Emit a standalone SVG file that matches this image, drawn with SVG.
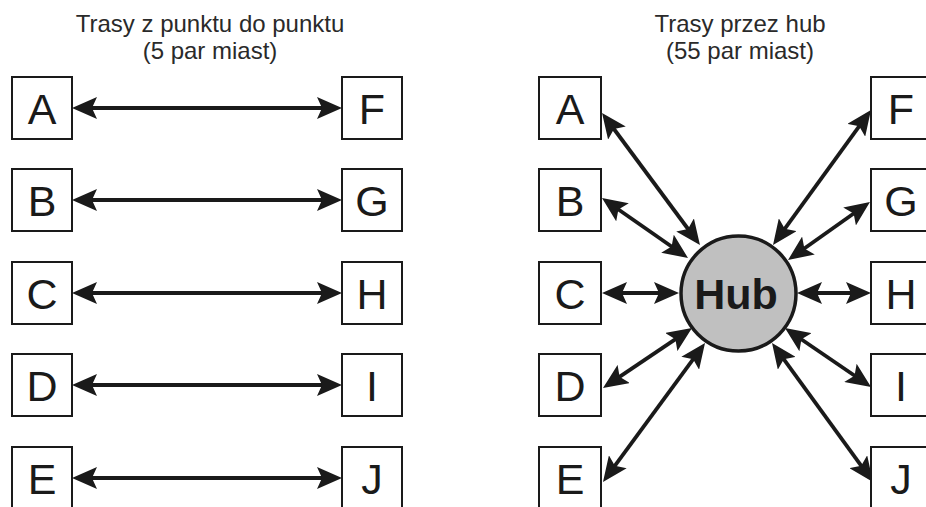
<svg xmlns="http://www.w3.org/2000/svg" width="926" height="507" viewBox="0 0 926 507">
<defs>
<style>
.box{fill:#fff;stroke:#1a1a1a;stroke-width:2}
.lbl{font-family:"Liberation Sans",Arial,sans-serif;font-size:43px;fill:#1a1a1a;text-anchor:middle}
.ttl{font-family:"Liberation Sans",Arial,sans-serif;font-size:24px;fill:#2a2a2a;text-anchor:middle}
.con{stroke:#1a1a1a;stroke-width:3.8;fill:none;marker-start:url(#ah);marker-end:url(#ah)}
</style>
<marker id="ah" viewBox="0 0 25 22" markerWidth="25" markerHeight="22" markerUnits="userSpaceOnUse" refX="15" refY="11" orient="auto-start-reverse">
<path d="M0,0 L25,11 L0,22 L5,11 Z" fill="#1a1a1a"/>
</marker>
</defs>
<rect width="926" height="507" fill="#fff"/>
<g id="titles">
<text class="ttl" x="210" y="32">Trasy z punktu do punktu</text>
<text class="ttl" x="210" y="59">(5 par miast)</text>
<text class="ttl" x="740" y="32">Trasy przez hub</text>
<text class="ttl" x="740" y="59">(55 par miast)</text>
</g>
<g id="connectors">
<line class="con" x1="82" y1="108" x2="332" y2="108"/>
<line class="con" x1="82" y1="200" x2="332" y2="200"/>
<line class="con" x1="82" y1="293" x2="332" y2="293"/>
<line class="con" x1="82" y1="385" x2="332" y2="385"/>
<line class="con" x1="82" y1="478" x2="332" y2="478"/>
<line class="con" x1="608" y1="121" x2="694" y2="237"/>
<line class="con" x1="610.2" y1="203.7" x2="679.8" y2="252.3"/>
<line class="con" x1="612" y1="293" x2="669" y2="293"/>
<line class="con" x1="611.3" y1="382.4" x2="683.7" y2="333.6"/>
<line class="con" x1="608.9" y1="473.9" x2="699.1" y2="351.1"/>
<line class="con" x1="865.1" y1="118.1" x2="778.9" y2="236.9"/>
<line class="con" x1="861.8" y1="207.8" x2="796.2" y2="254.2"/>
<line class="con" x1="861" y1="293" x2="807" y2="293"/>
<line class="con" x1="862.8" y1="381.3" x2="793.2" y2="333.7"/>
<line class="con" x1="867.1" y1="473.9" x2="777.9" y2="351.1"/>
</g>
<g id="p2p-A"><rect class="box" x="12" y="77" width="60" height="62"/><text class="lbl" x="42" y="123.5">A</text></g>
<g id="p2p-B"><rect class="box" x="12" y="169" width="60" height="62"/><text class="lbl" x="42" y="215.5">B</text></g>
<g id="p2p-C"><rect class="box" x="12" y="262" width="60" height="62"/><text class="lbl" x="42" y="308.5">C</text></g>
<g id="p2p-D"><rect class="box" x="12" y="354" width="60" height="62"/><text class="lbl" x="42" y="400.5">D</text></g>
<g id="p2p-E"><rect class="box" x="12" y="447" width="60" height="62"/><text class="lbl" x="42" y="493.5">E</text></g>
<g id="p2p-F"><rect class="box" x="342" y="77" width="60" height="62"/><text class="lbl" x="372" y="123.5">F</text></g>
<g id="p2p-G"><rect class="box" x="342" y="169" width="60" height="62"/><text class="lbl" x="372" y="215.5">G</text></g>
<g id="p2p-H"><rect class="box" x="342" y="262" width="60" height="62"/><text class="lbl" x="372" y="308.5">H</text></g>
<g id="p2p-I"><rect class="box" x="342" y="354" width="60" height="62"/><text class="lbl" x="372" y="400.5">I</text></g>
<g id="p2p-J"><rect class="box" x="342" y="447" width="60" height="62"/><text class="lbl" x="372" y="493.5">J</text></g>
<g id="hub-A"><rect class="box" x="539" y="77" width="62" height="62"/><text class="lbl" x="570" y="123.5">A</text></g>
<g id="hub-B"><rect class="box" x="539" y="169" width="62" height="62"/><text class="lbl" x="570" y="215.5">B</text></g>
<g id="hub-C"><rect class="box" x="539" y="262" width="62" height="62"/><text class="lbl" x="570" y="308.5">C</text></g>
<g id="hub-D"><rect class="box" x="539" y="354" width="62" height="62"/><text class="lbl" x="570" y="400.5">D</text></g>
<g id="hub-E"><rect class="box" x="539" y="447" width="62" height="62"/><text class="lbl" x="570" y="493.5">E</text></g>
<g id="hub-F"><rect class="box" x="871" y="77" width="62" height="62"/><text class="lbl" x="901" y="123.5">F</text></g>
<g id="hub-G"><rect class="box" x="871" y="169" width="62" height="62"/><text class="lbl" x="901" y="215.5">G</text></g>
<g id="hub-H"><rect class="box" x="871" y="262" width="62" height="62"/><text class="lbl" x="901" y="308.5">H</text></g>
<g id="hub-I"><rect class="box" x="871" y="354" width="62" height="62"/><text class="lbl" x="901" y="400.5">I</text></g>
<g id="hub-J"><rect class="box" x="871" y="447" width="62" height="62"/><text class="lbl" x="901" y="493.5">J</text></g>
<g id="hub">
<circle cx="738.5" cy="293.5" r="57.5" fill="#c0c0c0" stroke="#1a1a1a" stroke-width="3.5"/>
<text x="736" y="309" font-family="'Liberation Sans',Arial,sans-serif" font-size="43" font-weight="bold" fill="#1a1a1a" text-anchor="middle">Hub</text>
</g>
</svg>
